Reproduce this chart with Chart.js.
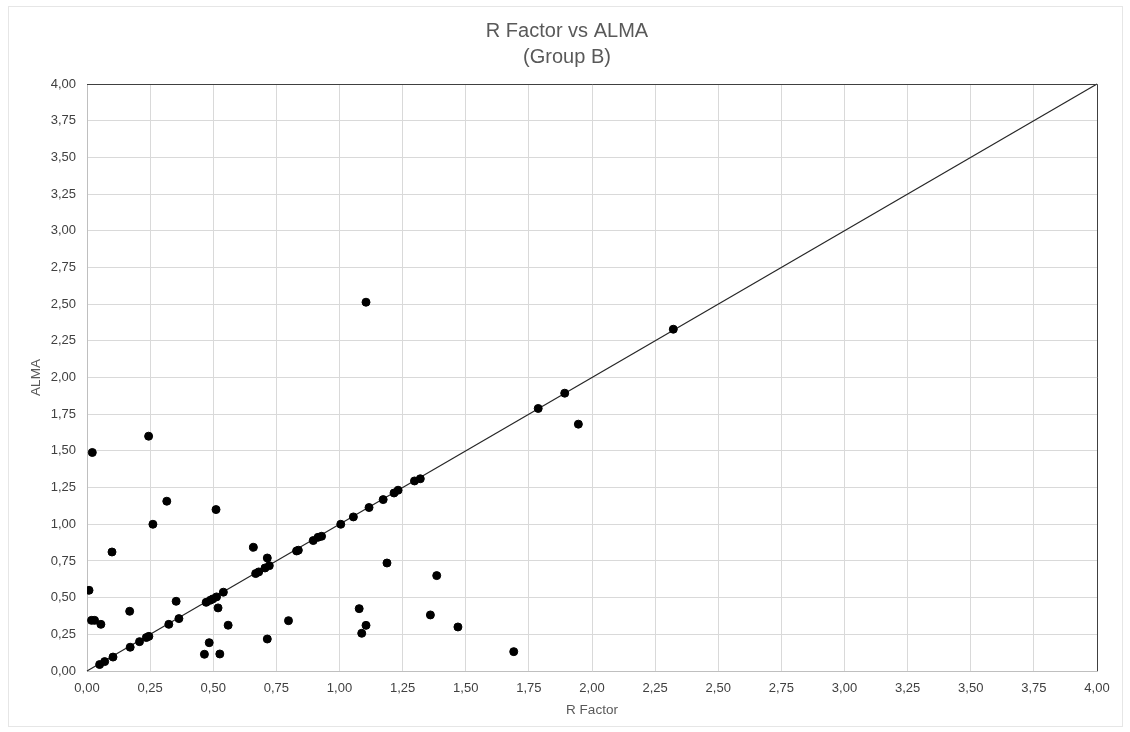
<!DOCTYPE html>
<html>
<head>
<meta charset="utf-8">
<script src="https://cdn.jsdelivr.net/npm/chart.js@4"></script>
<style>
  html, body { margin: 0; padding: 0; background: #fff; }
  #wrap { position: relative; width: 1130px; height: 732px; }
  #frame { position: absolute; left: 8px; top: 6px; width: 1113px; height: 719px; border: 1px solid #e6e6e6; }
  canvas { position: absolute; left: 0; top: 0; }
</style>
</head>
<body>
<div id="wrap">
  <div id="frame"></div>
  <canvas id="chart" width="1130" height="732"></canvas>
</div>
<script>
// R Factor vs ALMA (Group B)
const rFactor = [
  0.021, 0.244, 0.316, 0.261, 0.511, 0.099, 0.008, 0.018, 0.030, 0.055,
  0.169, 0.353, 0.364, 0.324, 0.171, 0.208, 0.235, 0.245, 0.103, 0.070,
  0.050, 0.472, 0.488, 0.498, 0.513, 0.540, 0.519, 0.559, 0.484, 0.465,
  0.526, 0.659, 0.714, 0.668, 0.680, 0.705, 0.722, 0.714, 0.798, 0.830,
  0.837, 0.896, 0.915, 0.929, 1.005, 1.055, 1.117, 1.078, 1.105, 1.088,
  1.173, 1.216, 1.232, 1.297, 1.320, 1.188, 1.385, 1.360, 1.469, 1.690,
  1.787, 1.946, 1.892, 2.322, 1.105,
];
const alma = [
  1.489, 1.600, 1.157, 1.000, 1.100, 0.811, 0.550, 0.345, 0.345, 0.318,
  0.407, 0.475, 0.357, 0.318, 0.162, 0.200, 0.228, 0.236, 0.095, 0.064,
  0.044, 0.468, 0.482, 0.491, 0.505, 0.537, 0.430, 0.312, 0.193, 0.114,
  0.116, 0.843, 0.770, 0.664, 0.675, 0.702, 0.718, 0.218, 0.343, 0.818,
  0.823, 0.889, 0.911, 0.918, 1.000, 1.050, 1.114, 0.425, 0.311, 0.257,
  1.168, 1.213, 1.232, 1.295, 1.310, 0.736, 0.650, 0.382, 0.300, 0.132,
  1.789, 1.682, 1.893, 2.329, 2.513,
];
const identityX = [0, 4];
const identityY = [0, 4];
const axisTicks = [0, 0.25, 0.5, 0.75, 1, 1.25, 1.5, 1.75, 2, 2.25, 2.5, 2.75, 3, 3.25, 3.5, 3.75, 4];
const titleLines = ["R Factor vs ALMA", "(Group B)"];

const TEXT = "#595959";
const TICK = "#404040";
const GRID = "#d9d9d9";
const FONT = "'Liberation Sans', Arial, sans-serif";

const fmt = (v) => Number(v).toFixed(2).replace(".", ",");
const setTicks = (scale) => { scale.ticks = axisTicks.map((v) => ({ value: v })); };

// bordes superior y derecho del area de trazado (oscuros)
const plotBorder = {
  id: "plotBorder",
  afterDatasetsDraw(chart) {
    const { ctx, chartArea: a } = chart;
    ctx.save();
    ctx.strokeStyle = "#404040";
    ctx.lineWidth = 1;
    ctx.beginPath();
    ctx.moveTo(a.left, Math.round(a.top) + 0.5);
    ctx.lineTo(Math.round(a.right) + 0.5, Math.round(a.top) + 0.5);
    ctx.lineTo(Math.round(a.right) + 0.5, a.bottom);
    ctx.stroke();
    ctx.restore();
  },
};

new Chart(document.getElementById("chart").getContext("2d"), {
  type: "scatter",
  data: {
    datasets: [
      {
        label: "ALMA",
        data: rFactor.map((x, i) => ({ x, y: alma[i] })),
        backgroundColor: "#000",
        borderColor: "#000",
        pointRadius: 4,
        pointHoverRadius: 4,
        order: 1,
      },
      {
        label: "y = x",
        data: identityX.map((x, i) => ({ x, y: identityY[i] })),
        showLine: true,
        borderColor: "#262626",
        borderWidth: 1.2,
        pointRadius: 0,
        clip: false,
        order: 2,
      },
    ],
  },
  plugins: [plotBorder],
  options: {
    responsive: false,
    animation: false,
    layout: { padding: { left: 37, right: 33, top: 0, bottom: 10 } },
    plugins: {
      legend: { display: false },
      tooltip: { enabled: false },
      title: {
        display: true,
        text: titleLines,
        color: TEXT,
        font: { family: FONT, size: 20, weight: "normal", lineHeight: 1.3 },
        padding: { top: 18, bottom: 14 },
      },
    },
    scales: {
      x: {
        type: "linear",
        min: 0,
        max: 4,
        afterBuildTicks: setTicks,
        afterFit: (s) => { s.height = 51; },
        grid: { color: GRID, drawTicks: false },
        border: { color: "#bfbfbf" },
        ticks: { color: TICK, font: { family: FONT, size: 13 }, padding: 10, maxRotation: 0, callback: fmt },
        title: { display: true, text: "R Factor", color: TEXT, font: { family: FONT, size: 13.5 }, padding: { top: 2 } },
      },
      y: {
        type: "linear",
        min: 0,
        max: 4,
        afterBuildTicks: setTicks,
        afterFit: (s) => { s.width = 50; },
        grid: { color: GRID, drawTicks: false },
        border: { color: "#bfbfbf" },
        ticks: { color: TICK, font: { family: FONT, size: 13 }, padding: 11, callback: fmt },
        title: { display: true, text: "ALMA", color: TEXT, font: { family: FONT, size: 13.5 }, padding: { top: -9, bottom: 0 } },
      },
    },
  },
});
</script>
</body>
</html>
